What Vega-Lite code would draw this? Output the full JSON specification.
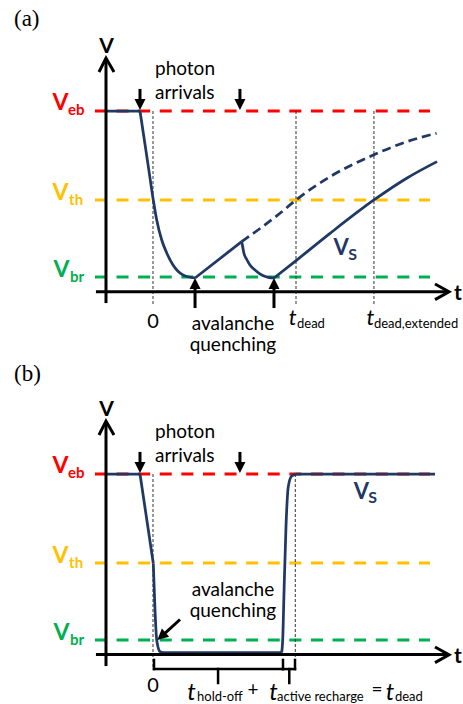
{
  "$schema": "https://vega.github.io/schema/vega-lite/v6.json",
  "padding": 0,
  "background": "white",
  "spacing": 22,
  "bounds": "flush",
  "config": {"view": {"stroke": null}, "font": "Lato"},
  "datasets": {
    "levels": [
      {"level": "eb", "x": -0.406, "x2": 1.937, "y": 1},
      {"level": "th", "x": -0.406, "x2": 1.937, "y": 0.464},
      {"level": "br", "x": -0.406, "x2": 1.937, "y": 0}
    ],
    "levelV": [
      {"level": "eb", "x": -0.647, "y": 1.006, "text": "V"},
      {"level": "th", "x": -0.647, "y": 0.464, "text": "V"},
      {"level": "br", "x": -0.640, "y": 0, "text": "V"}
    ],
    "levelSub": [
      {"level": "eb", "x": -0.594, "y": 0.976, "text": "eb"},
      {"level": "th", "x": -0.587, "y": 0.434, "text": "th"},
      {"level": "br", "x": -0.580, "y": -0.030, "text": "br"}
    ],
    "vertA": [
      {"x": 0, "y": 1, "y2": -0.175},
      {"x": 1, "y": 1, "y2": -0.175},
      {"x": 1.545, "y": 1, "y2": -0.175}
    ],
    "vertB": [
      {"x": 0, "y": 1, "y2": -0.169},
      {"x": 0.995, "y": 1, "y2": -0.169}
    ],
    "vsA": [
      {"seg": "flat", "x": -0.3287, "y": 1},
      {"seg": "flat", "x": -0.0909, "y": 1},
      {"seg": "drop", "x": -0.0909, "y": 1},
      {"seg": "drop", "x": -0.0676, "y": 0.866},
      {"seg": "drop", "x": -0.0326, "y": 0.665},
      {"seg": "drop", "x": 0.002, "y": 0.464},
      {"seg": "drop", "x": 0.026, "y": 0.343},
      {"seg": "drop", "x": 0.061, "y": 0.223},
      {"seg": "drop", "x": 0.096, "y": 0.145},
      {"seg": "drop", "x": 0.140, "y": 0.072},
      {"seg": "drop", "x": 0.210, "y": 0.012},
      {"seg": "drop", "x": 0.294, "y": -0.006},
      {"seg": "rise1", "x": 0.294, "y": -0.006},
      {"seg": "rise1", "x": 0.620, "y": 0.213},
      {"seg": "decay", "x": 0.620, "y": 0.213},
      {"seg": "decay", "x": 0.627, "y": 0.183},
      {"seg": "decay", "x": 0.636, "y": 0.143},
      {"seg": "decay", "x": 0.655, "y": 0.107},
      {"seg": "decay", "x": 0.678, "y": 0.072},
      {"seg": "decay", "x": 0.713, "y": 0.042},
      {"seg": "decay", "x": 0.760, "y": 0.012},
      {"seg": "decay", "x": 0.806, "y": -0.002},
      {"seg": "decay", "x": 0.846, "y": -0.006},
      {"seg": "rise2", "x": 0.846, "y": -0.006},
      {"seg": "rise2", "x": 1.005, "y": 0.102},
      {"seg": "rise2", "x": 1.238, "y": 0.263},
      {"seg": "rise2", "x": 1.545, "y": 0.464},
      {"seg": "rise2", "x": 1.774, "y": 0.595},
      {"seg": "rise2", "x": 1.986, "y": 0.695}
    ],
    "vsDashA": [
      {"x": 0.620, "y": 0.213},
      {"x": 0.888, "y": 0.384},
      {"x": 1.0, "y": 0.464},
      {"x": 1.238, "y": 0.604},
      {"x": 1.541, "y": 0.735},
      {"x": 1.774, "y": 0.815},
      {"x": 1.983, "y": 0.866}
    ],
    "vsB": [
      {"seg": "flat", "x": -0.3287, "y": 1},
      {"seg": "flat", "x": -0.0909, "y": 1},
      {"seg": "drop", "x": -0.0909, "y": 1},
      {"seg": "drop", "x": 0.002, "y": 0.462},
      {"seg": "fall", "x": 0.002, "y": 0.462},
      {"seg": "fall", "x": 0.014, "y": 0.181},
      {"seg": "fall", "x": 0.026, "y": 0},
      {"seg": "fall", "x": 0.049, "y": -0.070},
      {"seg": "fall", "x": 0.072, "y": -0.076},
      {"seg": "fall", "x": 0.900, "y": -0.076},
      {"seg": "rise", "x": 0.900, "y": -0.076},
      {"seg": "rise", "x": 0.907, "y": 0},
      {"seg": "rise", "x": 0.916, "y": 0.281},
      {"seg": "rise", "x": 0.930, "y": 0.683},
      {"seg": "rise", "x": 0.946, "y": 0.924},
      {"seg": "rise", "x": 0.970, "y": 0.988},
      {"seg": "rise", "x": 1.005, "y": 1.0},
      {"seg": "rise", "x": 1.972, "y": 1.0}
    ],
    "strokesA": [
      {"x": -0.3287, "x2": -0.3287, "y": -0.157, "y2": 1.315},
      {"x": -0.399, "x2": 2.065, "y": -0.089, "y2": -0.089},
      {"x": -0.091, "x2": -0.091, "y": 1.133, "y2": 1.06},
      {"x": 0.608, "x2": 0.608, "y": 1.133, "y2": 1.06},
      {"x": 0.294, "x2": 0.294, "y": -0.187, "y2": -0.045},
      {"x": 0.846, "x2": 0.846, "y": -0.187, "y2": -0.045}
    ],
    "strokesB": [
      {"x": -0.3287, "x2": -0.3287, "y": -0.157, "y2": 1.315},
      {"x": -0.399, "x2": 2.065, "y": -0.088, "y2": -0.088},
      {"x": -0.091, "x2": -0.091, "y": 1.133, "y2": 1.06},
      {"x": 0.608, "x2": 0.608, "y": 1.133, "y2": 1.06},
      {"x": 0.189, "x2": 0.073, "y": 0.1235, "y2": 0.033}
    ],
    "braces": [
      {"x": 0.007, "x2": 0.909, "y": -0.175, "y2": -0.175},
      {"x": 0.007, "x2": 0.007, "y": -0.120, "y2": -0.175},
      {"x": 0.909, "x2": 0.909, "y": -0.120, "y2": -0.175},
      {"x": 0.455, "x2": 0.455, "y": -0.175, "y2": -0.259},
      {"x": 0.909, "x2": 0.993, "y": -0.175, "y2": -0.175},
      {"x": 0.993, "x2": 0.993, "y": -0.120, "y2": -0.175},
      {"x": 0.953, "x2": 0.953, "y": -0.175, "y2": -0.259}
    ],
    "chev": [
      {"id": "v", "i": 0, "x": -0.3776, "y": 1.235},
      {"id": "v", "i": 1, "x": -0.3287, "y": 1.319},
      {"id": "v", "i": 2, "x": -0.2727, "y": 1.235},
      {"id": "t", "i": 0, "x": 1.972, "y": -0.042},
      {"id": "t", "i": 1, "x": 2.070, "y": -0.089},
      {"id": "t", "i": 2, "x": 1.972, "y": -0.136}
    ],
    "headsDown": [{"x": -0.091, "y": 1.039}, {"x": 0.608, "y": 1.039}],
    "headsUpA": [{"x": 0.294, "y": -0.039}, {"x": 0.846, "y": -0.039}],
    "headDiagB": [{"x": 0.059, "y": 0.022}],
    "panelA": [{"x": -0.972, "y": 1.512, "text": "(a)"}],
    "panelB": [{"x": -0.972, "y": 1.560, "text": "(b)"}],
    "axisLetters": [{"x": -0.325, "y": 1.35, "text": "V"}, {"x": 2.133, "y": -0.139, "text": "t"}],
    "leftTxt": [{"x": 0.014, "y": 1.214, "text": "photon"}, {"x": 0.014, "y": 1.072, "text": "arrivals"}],
    "centerA": [
      {"x": 0.559, "y": -0.319, "text": "avalanche"},
      {"x": 0.559, "y": -0.446, "text": "quenching"}
    ],
    "centerB": [
      {"x": 0.559, "y": 0.265, "text": "avalanche"},
      {"x": 0.559, "y": 0.137, "text": "quenching"},
      {"x": 0.699, "y": -0.337, "text": "+"},
      {"x": 1.566, "y": -0.337, "text": "="}
    ],
    "zeroA": [{"x": 0, "y": -0.307, "text": "0"}],
    "zeroB": [{"x": 0, "y": -0.313, "text": "0"}],
    "itA": [{"x": 0.976, "y": -0.289, "text": "t"}, {"x": 1.521, "y": -0.289, "text": "t"}],
    "itB": [{"x": 0.269, "y": -0.361, "text": "t"}, {"x": 0.843, "y": -0.361, "text": "t"}, {"x": 1.657, "y": -0.361, "text": "t"}],
    "subA": [{"x": 1.007, "y": -0.309, "text": "dead"}, {"x": 1.545, "y": -0.309, "text": "dead,extended"}],
    "subB": [{"x": 0.308, "y": -0.367, "text": "hold-off"}, {"x": 0.867, "y": -0.367, "text": "active recharge"}, {"x": 1.692, "y": -0.367, "text": "dead"}],
    "vsVA": [{"x": 1.315, "y": 0.133, "text": "V"}],
    "vsSA": [{"x": 1.366, "y": 0.100, "text": "S"}],
    "vsVB": [{"x": 1.458, "y": 0.849, "text": "V"}],
    "vsSB": [{"x": 1.505, "y": 0.823, "text": "S"}]
  },
  "vconcat": [
    {
      "width": 463,
      "height": 341,
      "encoding": {
        "x": {"field": "x", "type": "quantitative", "scale": {"domain": [-1.0699, 2.1678], "nice": false, "zero": false}, "axis": null},
        "y": {"field": "y", "type": "quantitative", "scale": {"domain": [-0.3855, 1.6687], "nice": false, "zero": false}, "axis": null}
      },
      "layer": [
        {"data": {"name": "levels"}, "mark": {"type": "rule", "strokeWidth": 3, "strokeDash": [12, 9.6]},
         "encoding": {"x2": {"field": "x2"}, "color": {"field": "level", "type": "nominal", "scale": {"domain": ["eb", "th", "br"], "range": ["#ff0000", "#ffc000", "#00b050"]}, "legend": null}}},
        {"data": {"name": "vertA"}, "mark": {"type": "rule", "strokeWidth": 1, "strokeDash": [3, 2], "color": "#333333"},
         "encoding": {"y2": {"field": "y2"}}},
        {"data": {"name": "vsDashA"}, "mark": {"type": "line", "interpolate": "monotone", "color": "#1f3864", "strokeWidth": 2.75, "strokeDash": [9, 5]}, "encoding": {}},
        {"data": {"name": "vsA"}, "mark": {"type": "line", "interpolate": "monotone", "color": "#1f3864", "strokeWidth": 2.75},
         "encoding": {"detail": {"field": "seg", "type": "nominal"}}},
        {"data": {"name": "strokesA"}, "mark": {"type": "rule", "strokeWidth": 3, "color": "black"},
         "encoding": {"x2": {"field": "x2"}, "y2": {"field": "y2"}}},
        {"data": {"name": "chev"}, "mark": {"type": "line", "strokeWidth": 3, "color": "black", "strokeJoin": "miter"},
         "encoding": {"detail": {"field": "id", "type": "nominal"}, "order": {"field": "i", "type": "quantitative"}}},
        {"data": {"name": "headsDown"}, "mark": {"type": "point", "shape": "M-1,-1L1,-1L0,1Z", "filled": true, "color": "black", "opacity": 1, "size": 121}, "encoding": {}},
        {"data": {"name": "headsUpA"}, "mark": {"type": "point", "shape": "M-1,1L1,1L0,-1Z", "filled": true, "color": "black", "opacity": 1, "size": 121}, "encoding": {}},
        {"data": {"name": "panelA"}, "mark": {"type": "text", "font": "Liberation Serif", "fontSize": 23, "align": "left", "baseline": "alphabetic", "color": "black"},
         "encoding": {"text": {"field": "text"}}},
        {"data": {"name": "axisLetters"}, "mark": {"type": "text", "fontSize": 21, "fontWeight": "bold", "align": "center", "baseline": "alphabetic", "color": "black"},
         "encoding": {"text": {"field": "text"}}},
        {"data": {"name": "leftTxt"}, "mark": {"type": "text", "fontSize": 19, "align": "left", "baseline": "alphabetic", "color": "black"},
         "encoding": {"text": {"field": "text"}}},
        {"data": {"name": "centerA"}, "mark": {"type": "text", "fontSize": 19, "align": "center", "baseline": "alphabetic", "color": "black"},
         "encoding": {"text": {"field": "text"}}},
        {"data": {"name": "zeroA"}, "mark": {"type": "text", "fontSize": 20, "align": "center", "baseline": "alphabetic", "color": "black"},
         "encoding": {"text": {"field": "text"}}},
        {"data": {"name": "itA"}, "mark": {"type": "text", "fontSize": 22, "fontStyle": "italic", "align": "center", "baseline": "alphabetic", "color": "black"},
         "encoding": {"text": {"field": "text"}}},
        {"data": {"name": "subA"}, "mark": {"type": "text", "fontSize": 13, "align": "left", "baseline": "alphabetic", "color": "black"},
         "encoding": {"text": {"field": "text"}}},
        {"data": {"name": "levelV"}, "mark": {"type": "text", "fontSize": 23, "fontWeight": "bold", "align": "center", "baseline": "alphabetic"},
         "encoding": {"text": {"field": "text"}, "color": {"field": "level", "type": "nominal", "legend": null}}},
        {"data": {"name": "levelSub"}, "mark": {"type": "text", "fontSize": 15, "fontWeight": "bold", "align": "left", "baseline": "alphabetic"},
         "encoding": {"text": {"field": "text"}, "color": {"field": "level", "type": "nominal", "legend": null}}},
        {"data": {"name": "vsVA"}, "mark": {"type": "text", "fontSize": 22, "fontWeight": "bold", "align": "center", "baseline": "alphabetic", "color": "#1f3864"},
         "encoding": {"text": {"field": "text"}}},
        {"data": {"name": "vsSA"}, "mark": {"type": "text", "fontSize": 16, "fontWeight": "bold", "align": "left", "baseline": "alphabetic", "color": "#1f3864"},
         "encoding": {"text": {"field": "text"}}}
      ]
    },
    {
      "width": 463,
      "height": 341,
      "encoding": {
        "x": {"field": "x", "type": "quantitative", "scale": {"domain": [-1.0699, 2.1678], "nice": false, "zero": false}, "axis": null},
        "y": {"field": "y", "type": "quantitative", "scale": {"domain": [-0.3855, 1.6687], "nice": false, "zero": false}, "axis": null}
      },
      "layer": [
        {"data": {"name": "levels"}, "mark": {"type": "rule", "strokeWidth": 3, "strokeDash": [12, 9.6]},
         "encoding": {"x2": {"field": "x2"}, "color": {"field": "level", "type": "nominal", "scale": {"domain": ["eb", "th", "br"], "range": ["#ff0000", "#ffc000", "#00b050"]}, "legend": null}}},
        {"data": {"name": "vertB"}, "mark": {"type": "rule", "strokeWidth": 1, "strokeDash": [3, 2], "color": "#333333"},
         "encoding": {"y2": {"field": "y2"}}},
        {"data": {"name": "vsB"}, "mark": {"type": "line", "interpolate": "monotone", "color": "#1f3864", "strokeWidth": 2.75},
         "encoding": {"detail": {"field": "seg", "type": "nominal"}}},
        {"data": {"name": "strokesB"}, "mark": {"type": "rule", "strokeWidth": 3, "color": "black"},
         "encoding": {"x2": {"field": "x2"}, "y2": {"field": "y2"}}},
        {"data": {"name": "braces"}, "mark": {"type": "rule", "strokeWidth": 2.5, "color": "black", "strokeCap": "square"},
         "encoding": {"x2": {"field": "x2"}, "y2": {"field": "y2"}}},
        {"data": {"name": "chev"}, "mark": {"type": "line", "strokeWidth": 3, "color": "black", "strokeJoin": "miter"},
         "encoding": {"detail": {"field": "id", "type": "nominal"}, "order": {"field": "i", "type": "quantitative"}}},
        {"data": {"name": "headsDown"}, "mark": {"type": "point", "shape": "M-1,-1L1,-1L0,1Z", "filled": true, "color": "black", "opacity": 1, "size": 121}, "encoding": {}},
        {"data": {"name": "headDiagB"}, "mark": {"type": "point", "shape": "M-1,1L1,1L0,-1Z", "filled": true, "color": "black", "opacity": 1, "size": 121, "angle": 228}, "encoding": {}},
        {"data": {"name": "panelB"}, "mark": {"type": "text", "font": "Liberation Serif", "fontSize": 23, "align": "left", "baseline": "alphabetic", "color": "black"},
         "encoding": {"text": {"field": "text"}}},
        {"data": {"name": "axisLetters"}, "mark": {"type": "text", "fontSize": 21, "fontWeight": "bold", "align": "center", "baseline": "alphabetic", "color": "black"},
         "encoding": {"text": {"field": "text"}}},
        {"data": {"name": "leftTxt"}, "mark": {"type": "text", "fontSize": 19, "align": "left", "baseline": "alphabetic", "color": "black"},
         "encoding": {"text": {"field": "text"}}},
        {"data": {"name": "centerB"}, "mark": {"type": "text", "fontSize": 19, "align": "center", "baseline": "alphabetic", "color": "black"},
         "encoding": {"text": {"field": "text"}}},
        {"data": {"name": "zeroB"}, "mark": {"type": "text", "fontSize": 20, "align": "center", "baseline": "alphabetic", "color": "black"},
         "encoding": {"text": {"field": "text"}}},
        {"data": {"name": "itB"}, "mark": {"type": "text", "fontSize": 24, "fontStyle": "italic", "align": "center", "baseline": "alphabetic", "color": "black"},
         "encoding": {"text": {"field": "text"}}},
        {"data": {"name": "subB"}, "mark": {"type": "text", "fontSize": 13, "align": "left", "baseline": "alphabetic", "color": "black"},
         "encoding": {"text": {"field": "text"}}},
        {"data": {"name": "levelV"}, "mark": {"type": "text", "fontSize": 23, "fontWeight": "bold", "align": "center", "baseline": "alphabetic"},
         "encoding": {"text": {"field": "text"}, "color": {"field": "level", "type": "nominal", "legend": null}}},
        {"data": {"name": "levelSub"}, "mark": {"type": "text", "fontSize": 15, "fontWeight": "bold", "align": "left", "baseline": "alphabetic"},
         "encoding": {"text": {"field": "text"}, "color": {"field": "level", "type": "nominal", "legend": null}}},
        {"data": {"name": "vsVB"}, "mark": {"type": "text", "fontSize": 22, "fontWeight": "bold", "align": "center", "baseline": "alphabetic", "color": "#1f3864"},
         "encoding": {"text": {"field": "text"}}},
        {"data": {"name": "vsSB"}, "mark": {"type": "text", "fontSize": 16, "fontWeight": "bold", "align": "left", "baseline": "alphabetic", "color": "#1f3864"},
         "encoding": {"text": {"field": "text"}}}
      ]
    }
  ]
}
